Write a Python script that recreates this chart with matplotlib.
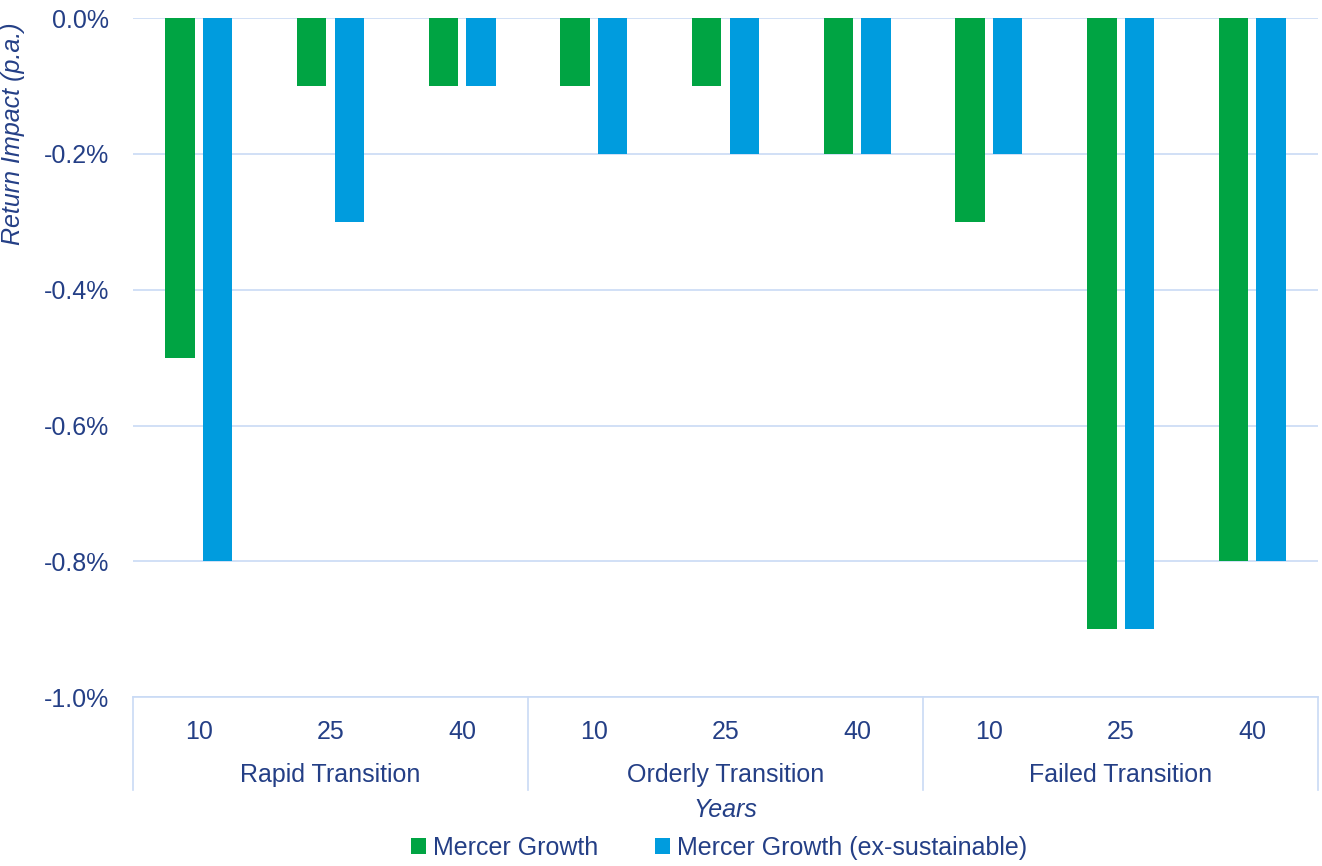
import matplotlib.pyplot as plt
import numpy as np

# scenario groups and horizons (years)
scenarios = ["Rapid Transition", "Orderly Transition", "Failed Transition"]
horizons = ["10", "25", "40"]

# return impact, % p.a.
mercer_growth = [-0.5, -0.1, -0.1, -0.1, -0.1, -0.2, -0.3, -0.9, -0.8]
mercer_growth_ex = [-0.8, -0.3, -0.1, -0.2, -0.2, -0.2, -0.2, -0.9, -0.8]
y_ticks = [-1.0, -0.8, -0.6, -0.4, -0.2, 0.0]

green = "#00A443"
blue = "#009CDE"
navy = "#243F86"
grid_col = "#C9DAF5"

plt.rcParams["font.family"] = ["Liberation Sans", "DejaVu Sans"]

fig = plt.figure(figsize=(13.22, 8.66), dpi=100)
ax = fig.add_axes([0.1006, 0.195, 0.8964, 0.784])

x = np.arange(len(mercer_growth))
w = 0.225
off = 0.143
ax.bar(x - off, mercer_growth, width=w, color=green, label="Mercer Growth", zorder=3)
ax.bar(x + off, mercer_growth_ex, width=w, color=blue,
       label="Mercer Growth (ex-sustainable)", zorder=3)

ax.set_xlim(-0.5, len(x) - 0.5)
ax.set_ylim(-1.0, 0.0)
ax.set_yticks(y_ticks)
ax.set_yticklabels([f"{abs(v):.1f}%" if v == 0 else f"{v:.1f}%" for v in y_ticks])
ax.tick_params(axis="y", length=0, pad=17, labelsize=18, labelcolor=navy)
ax.set_xticks([])
ax.grid(axis="y", color=grid_col, linewidth=1.2, zorder=0)

for s in ["left", "right", "top"]:
    ax.spines[s].set_visible(False)
ax.spines["bottom"].set_color(grid_col)
ax.spines["bottom"].set_linewidth(1.2)

ax.set_ylabel("Return Impact (p.a.)", fontsize=18, style="italic", color=navy)
ax.yaxis.set_label_coords(-0.0915, 0.83)

# category axis: horizons, then scenario groups with separators
tr = ax.get_xaxis_transform()
for i in x:
    ax.text(i, -0.0515, horizons[i % 3], transform=tr, ha="center", va="center",
            fontsize=18, color=navy)
for g, name in enumerate(scenarios):
    ax.text(g * 3 + 1, -0.115, name, transform=tr, ha="center", va="center",
            fontsize=18, color=navy)
for b in [-0.5, 2.5, 5.5, 8.5]:
    ax.plot([b, b], [0, -0.137], transform=tr, color=grid_col, linewidth=1.2,
            clip_on=False)

ax.text(0.5, -0.166, "Years", transform=ax.transAxes, ha="center", va="center",
        fontsize=18, style="italic", color=navy)

leg = ax.legend(loc="center", bbox_to_anchor=(0.4945, -0.222), ncol=2, frameon=False,
                fontsize=18, handlelength=0.6, handleheight=0.6,
                handletextpad=0.28, columnspacing=2.25)
for t in leg.get_texts():
    t.set_color(navy)

fig.savefig("out.png", dpi=100)
